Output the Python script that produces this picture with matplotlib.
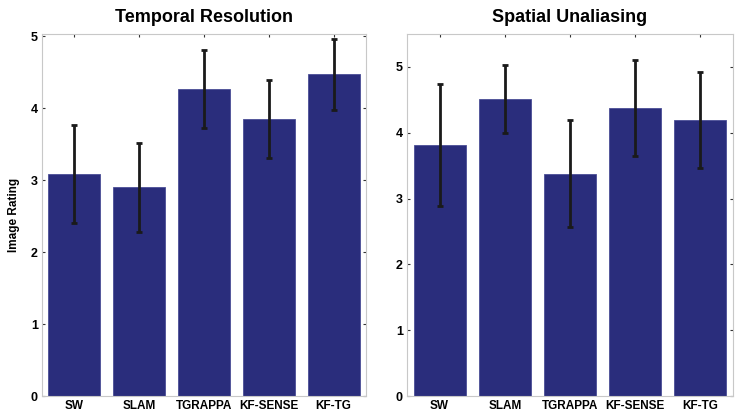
import matplotlib
matplotlib.use("Agg")
import matplotlib.pyplot as plt

# Ratings (mean and error bar half-width)
methods = ["SW", "SLAM", "TGRAPPA", "KF-SENSE", "KF-TG"]

temporal_mean = [3.09, 2.90, 4.27, 3.85, 4.47]
temporal_err = [0.68, 0.62, 0.54, 0.54, 0.49]

spatial_mean = [3.81, 4.51, 3.38, 4.38, 4.19]
spatial_err = [0.93, 0.52, 0.81, 0.73, 0.73]

bar_color = "#2a2d7c"
plt.rcParams["font.family"] = ["Liberation Sans", "DejaVu Sans"]
plt.rcParams["font.weight"] = "bold"

fig = plt.figure(figsize=(7.41, 4.15), dpi=100)
W, H = 741, 415


def panel(rect, means, errs, title, ymax, ylabel=None):
    ax = fig.add_axes([rect[0] / W, 1 - rect[3] / H, (rect[2] - rect[0]) / W, (rect[3] - rect[1]) / H])
    x = list(range(1, len(methods) + 1))
    ax.bar(x, means, width=0.8, color=bar_color, edgecolor="#4a4e96", linewidth=0.6, zorder=2)
    ax.errorbar(x, means, yerr=errs, fmt="none", ecolor="#1a1a1a", elinewidth=2.0,
                capsize=2.5, capthick=2.0, zorder=3)
    ax.set_xlim(0.5, 5.5)
    ax.set_ylim(0, ymax)
    ax.set_xticks(x)
    ax.set_xticklabels(methods, fontsize=8.5, fontweight="bold")
    ax.set_yticks(range(0, 6))
    ax.set_yticklabels([str(v) for v in range(0, 6)], fontsize=9, fontweight="bold")
    ax.tick_params(direction="in", length=2, width=0.8, color="#333333",
                   top=True, right=True, pad=3)
    for s in ax.spines.values():
        s.set_color("#c8c8c8")
        s.set_linewidth(0.8)
    ax.set_title(title, fontsize=13, fontweight="bold", pad=9)
    if ylabel:
        ax.set_ylabel(ylabel, fontsize=8.5, fontweight="bold", labelpad=8)
    return ax


panel((42, 34, 366, 396), temporal_mean, temporal_err, "Temporal Resolution", 5.03, "Image Rating")
panel((407, 34, 733, 396), spatial_mean, spatial_err, "Spatial Unaliasing", 5.5)

fig.savefig("out.png", dpi=100)
